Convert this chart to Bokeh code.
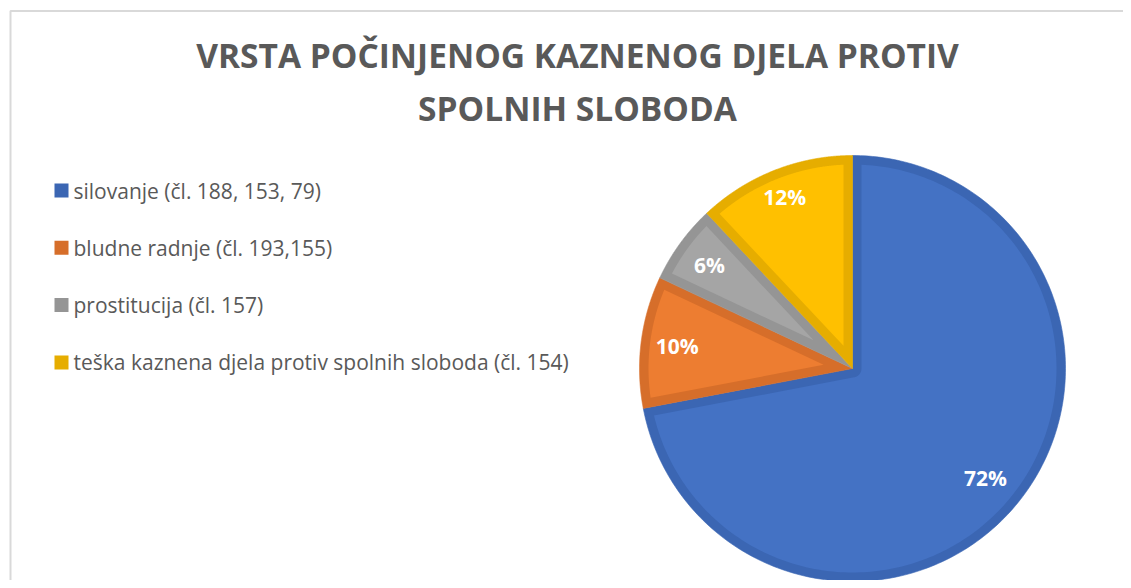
import numpy as np
from bokeh.plotting import figure
from bokeh.models import Range1d
from bokeh.core.properties import value
from bokeh.embed import file_html
from bokeh.resources import INLINE

# ---- data ----
title_lines = ["VRSTA POČINJENOG KAZNENOG DJELA PROTIV", "SPOLNIH SLOBODA"]
categories = [
    "silovanje (čl. 188, 153, 79)",
    "bludne radnje (čl. 193,155)",
    "prostitucija (čl. 157)",
    "teška kaznena djela protiv spolnih sloboda (čl. 154)",
]
shares = [72, 10, 6, 12]

# ---- style ----
fill_colors = ["#4472C4", "#ED7D31", "#A5A5A5", "#FFC000"]
edge_colors = ["#3B66B3", "#D66E2A", "#959595", "#E6AD00"]
text_gray = "#595959"
FONT = "Open Sans"

W, H = 1123, 580
p = figure(width=W, height=H, x_range=Range1d(0, W), y_range=Range1d(H, 0),
           output_backend="svg", toolbar_location=None,
           x_axis_type=None, y_axis_type=None, min_border=0)
p.outline_line_color = None
p.background_fill_color = "white"
p.border_fill_color = "white"

# chart area border (only top/left visible in the crop)
p.line(x=[10, 10, W], y=[H, 10.5, 10.5], line_color="#D9D9D9", line_width=2)

# ---- pie ----
cx, cy, r, d = 852, 368, 213, 9


def full_wedge(t0, t1, n=240):
    a = np.linspace(t0, t1, n)
    xs = np.concatenate([[0.0], r * np.cos(a)])
    ys = np.concatenate([[0.0], r * np.sin(a)])
    return cx + xs, cy - ys


def inset_wedge(t0, t1, n=240):
    span = t1 - t0
    R = r - d
    delta = np.arcsin(d / R)
    a = np.linspace(t0 + delta, t1 - delta, n)
    xs = list(R * np.cos(a))
    ys = list(R * np.sin(a))
    if span < np.pi:
        ap = d / np.sin(span / 2)
        mid = (t0 + t1) / 2
        xs.append(ap * np.cos(mid))
        ys.append(ap * np.sin(mid))
    else:
        s = np.linspace(t1 - np.pi / 2, t0 + np.pi / 2, 60)
        xs += list(d * np.cos(s))
        ys += list(d * np.sin(s))
    return cx + np.array(xs), cy - np.array(ys)


total = float(sum(shares))
cum = np.concatenate([[0.0], np.cumsum(shares)]) / total
outer_x, outer_y, inner_x, inner_y = [], [], [], []
label_x, label_y, label_txt = [], [], []
label_frac = [0.81, 0.83, 0.83, 0.865]
for i, s in enumerate(shares):
    a_cw, b_cw = 2 * np.pi * cum[i], 2 * np.pi * cum[i + 1]
    t0, t1 = np.pi / 2 - b_cw, np.pi / 2 - a_cw
    ox, oy = full_wedge(t0, t1)
    ix, iy = inset_wedge(t0, t1)
    outer_x.append(ox); outer_y.append(oy)
    inner_x.append(ix); inner_y.append(iy)
    mid = (t0 + t1) / 2
    label_x.append(cx + label_frac[i] * r * np.cos(mid))
    label_y.append(cy - label_frac[i] * r * np.sin(mid))
    label_txt.append(f"{round(100 * s / total)}%")

p.patches(xs=outer_x, ys=outer_y, fill_color=edge_colors, line_color=edge_colors, line_width=0.6)
p.patches(xs=inner_x, ys=inner_y, fill_color=fill_colors, line_color=None)

p.text(x=label_x, y=label_y, text=label_txt, text_font=value(FONT), text_font_style="bold",
       text_font_size="21px", text_color="white", text_align="center", text_baseline="middle")

# ---- title ----
p.text(x=[577, 577], y=[54, 107], text=title_lines, text_font=value(FONT), text_font_style="bold",
       text_font_size="33.5px", text_color=text_gray, text_align="center", text_baseline="alphabetic")

# ---- legend ----
leg_y = [190 + 57.3 * k for k in range(len(categories))]
p.rect(x=[61] * len(categories), y=leg_y, width=14, height=14, fill_color=edge_colors, line_color=None)
p.text(x=[73] * len(categories), y=leg_y, text=categories, text_font=value(FONT),
       text_font_size="21px", text_color=text_gray, text_align="left", text_baseline="middle")

open("out.html", "w").write(file_html(p, INLINE))
